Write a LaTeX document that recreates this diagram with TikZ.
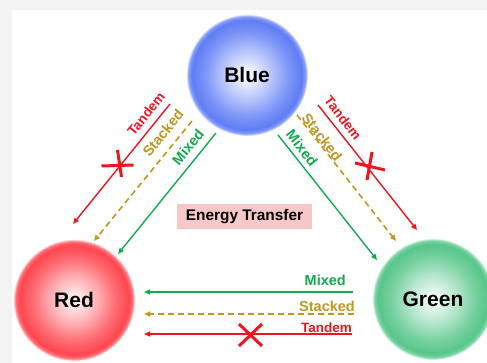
\documentclass[tikz,border=0pt]{standalone}
\usepackage{fontspec}
\setmainfont{Liberation Sans}
\usepackage{tikz}
\usetikzlibrary{arrows.meta}

\definecolor{backgray}{RGB}{243,243,243}
\definecolor{blueball}{RGB}{95,125,245}
\definecolor{redball}{RGB}{255,70,80}
\definecolor{greenball}{RGB}{86,198,138}
\definecolor{tandemred}{RGB}{240,20,30}
\definecolor{stackedgold}{RGB}{196,150,30}
\definecolor{mixedgreen}{RGB}{20,170,80}
\definecolor{boxpink}{RGB}{248,200,200}

\pgfdeclareradialshading{blueshade}{\pgfpoint{0bp}{0bp}}{color(0bp)=(white); color(2bp)=(blueball!8!white); color(10bp)=(blueball!45!white); color(17bp)=(blueball!80!white); color(22.5bp)=(blueball); color(24bp)=(blueball!75!white); color(25bp)=(white); color(50bp)=(white)}
\pgfdeclareradialshading{redshade}{\pgfpoint{0bp}{0bp}}{color(0bp)=(white); color(2bp)=(redball!10!white); color(10bp)=(redball!45!white); color(17bp)=(redball!80!white); color(22.5bp)=(redball); color(24bp)=(redball!75!white); color(25bp)=(white); color(50bp)=(white)}
\pgfdeclareradialshading{greenshade}{\pgfpoint{0bp}{0bp}}{color(0bp)=(white); color(2bp)=(greenball!10!white); color(10bp)=(greenball!45!white); color(17bp)=(greenball!80!white); color(22.5bp)=(greenball); color(24bp)=(greenball!75!white); color(25bp)=(white); color(50bp)=(white)}

\begin{document}
\begin{tikzpicture}[x=1pt, y=-1pt,
        ball/.style = {circle, minimum size=122pt, inner sep=0pt, font=\fontsize{21}{25}\selectfont\bfseries},
        lbl/.style = {inner sep=0pt, font=\fontsize{14.5}{17}\selectfont\bfseries},
        tip/.style = {-{Triangle[length=6pt, width=5pt]}},
        tandem/.style = {tip, draw=tandemred, line width=1.4pt},
        stacked/.style = {tip, draw=stackedgold, line width=1.6pt, dash pattern=on 6pt off 4pt},
        mixed/.style = {tip, draw=mixedgreen, line width=1.4pt},
        cross/.style = {draw=tandemred, line width=3pt}
    ]
        \useasboundingbox (0,0) rectangle (487,363);
        \fill[backgray] (0,0) rectangle (487,363);
        \fill[white] (12,10) rectangle (487,363);

        % the three balls
        \node[ball, shading=blueshade] (blue) at (247,75) {Blue};
        \node[ball, shading=redshade] (red) at (74,300) {Red};
        \node[ball, shading=greenshade] (green) at (433,299) {Green};

        \node[fill=boxpink, minimum width=135pt, minimum height=25pt, inner sep=0pt,
            font=\fontsize{15.4}{18}\selectfont\bfseries] (transfer) at (244.5,216.5) {Energy Transfer};

        % blue -> red
        \coordinate (tbr0) at (170,104); \coordinate (tbr1) at (73,224);
        \coordinate (sbr0) at (192,121); \coordinate (sbr1) at (94,241);
        \coordinate (mbr0) at (216,133); \coordinate (mbr1) at (118,254);
        \draw[tandem] (tbr0) -- (tbr1);
        \draw[stacked] (sbr0) -- (sbr1);
        \draw[mixed] (mbr0) -- (mbr1);
        \node[lbl, text=tandemred, rotate=51, font=\fontsize{13.5}{16}\selectfont\bfseries] (tandemBR) at (146,114) {Tandem};
        \node[lbl, text=stackedgold, rotate=51] (stackedBR) at (163,133) {Stacked};
        \node[lbl, text=mixedgreen, rotate=51] (mixedBR) at (188,147) {Mixed};
        \draw[cross] (101.5,166) -- (133.5,165) (117.5,150) -- (121.5,177);

        % blue -> green
        \coordinate (tbg0) at (318,105); \coordinate (tbg1) at (417,230);
        \coordinate (sbg0) at (297,115); \coordinate (sbg1) at (396,241);
        \coordinate (mbg0) at (278,135); \coordinate (mbg1) at (377,260);
        \draw[tandem] (tbg0) -- (tbg1);
        \draw[stacked] (sbg0) -- (sbg1);
        \draw[mixed] (mbg0) -- (mbg1);
        \node[lbl, text=tandemred, rotate=-52, font=\fontsize{13.5}{16}\selectfont\bfseries] (tandemBG) at (343,118) {Tandem};
        \node[lbl, text=stackedgold, rotate=-52] (stackedBG) at (322,137) {Stacked};
        \node[lbl, text=mixedgreen, rotate=-52] (mixedBG) at (302,148) {Mixed};
        \draw[cross] (355,163) -- (385,170) (372,152) -- (367,180);

        % green -> red
        \coordinate (tgr0) at (352,334); \coordinate (tgr1) at (144,334);
        \coordinate (sgr0) at (354,314); \coordinate (sgr1) at (144,314);
        \coordinate (mgr0) at (353,292); \coordinate (mgr1) at (144,292);
        \draw[tandem] (tgr0) -- (tgr1);
        \draw[stacked] (sgr0) -- (sgr1);
        \draw[mixed] (mgr0) -- (mgr1);
        \node[lbl, text=tandemred, anchor=base east, font=\fontsize{13.5}{16}\selectfont\bfseries] (tandemGR) at (352,332) {Tandem};
        \node[lbl, text=stackedgold, anchor=base east] (stackedGR) at (355,311) {Stacked};
        \node[lbl, text=mixedgreen, anchor=base east] (mixedGR) at (346,286) {Mixed};
        \draw[cross] (239,324) -- (262,346) (262,324) -- (239,346);
    \end{tikzpicture}
\end{document}
